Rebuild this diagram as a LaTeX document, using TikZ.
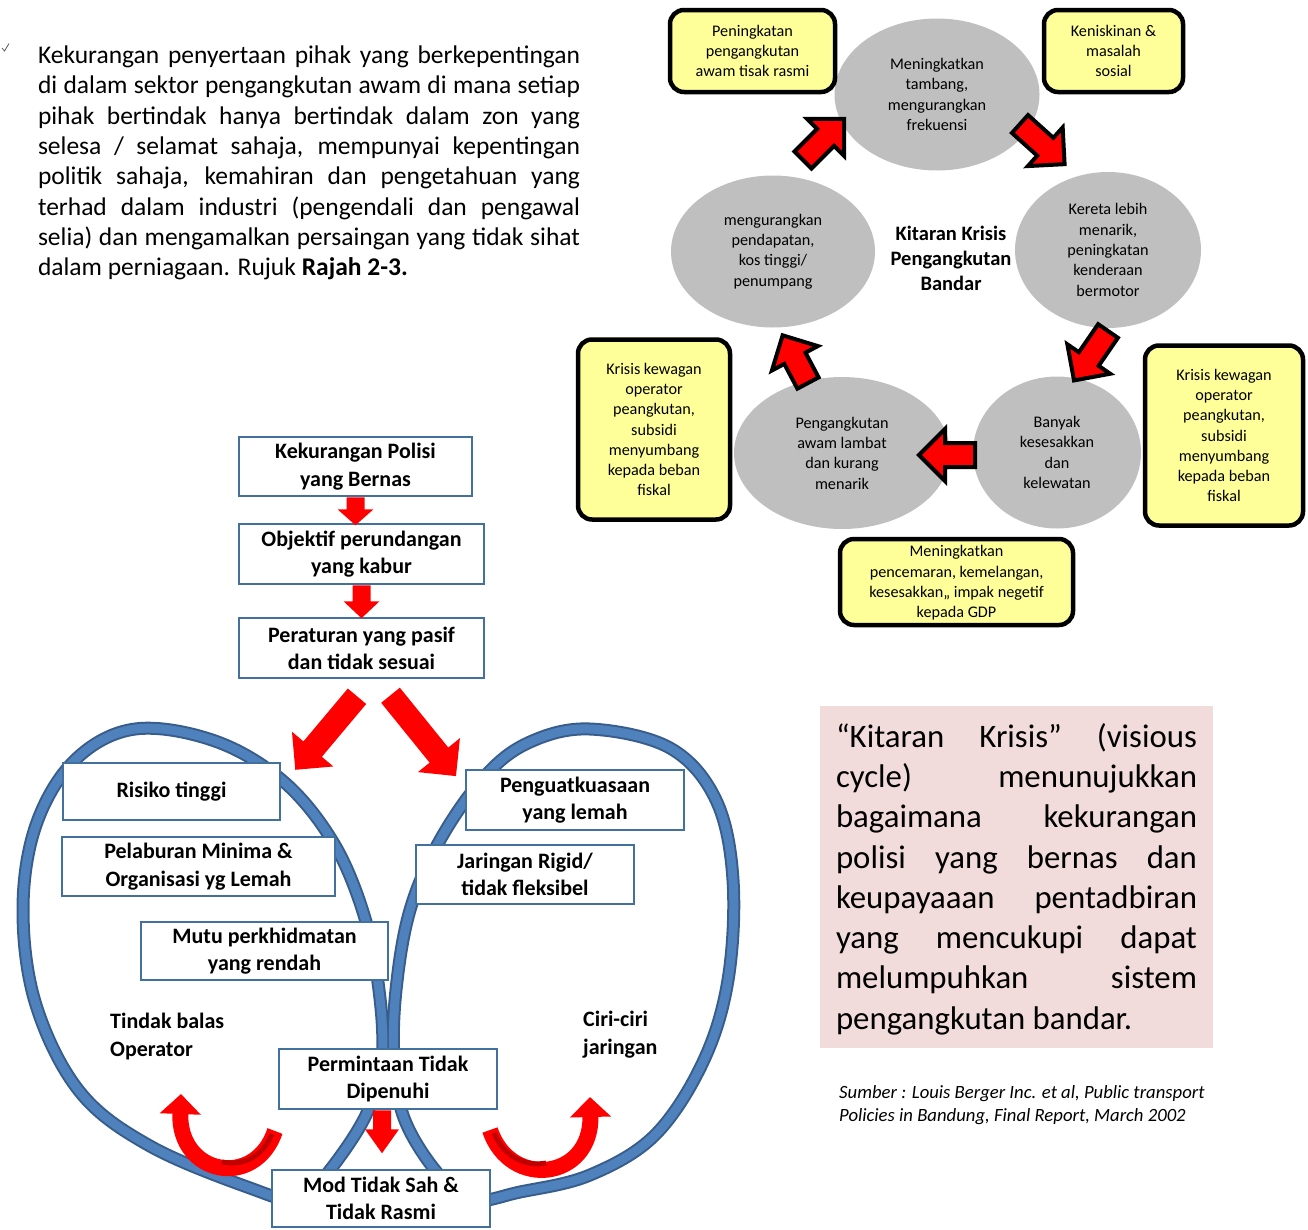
\documentclass[tikz,border=0pt]{standalone}
\usepackage{fontspec}
\setmainfont{Carlito}
\usetikzlibrary{shapes.geometric,arrows.meta,calc}

\definecolor{ellgray}{HTML}{BFBFBF}
\definecolor{noteyel}{HTML}{FFFF99}
\definecolor{boxblue}{HTML}{41719C}
\definecolor{loopblue}{HTML}{4F81BD}
\definecolor{loopedge}{HTML}{385D8A}
\definecolor{notepink}{HTML}{F2DCDB}
\definecolor{arrred}{HTML}{FF0000}
\definecolor{arrdark}{HTML}{C00000}

\newcommand\cyctext{\fontsize{16.2}{20.3}\selectfont}
\newcommand\titletext{\bfseries\fontsize{20.5}{25}\selectfont}
\newcommand\flowtext{\bfseries\fontsize{22}{27.3}\selectfont}
\newcommand\paratext{\fontsize{25.5}{30.3}\selectfont\hyphenpenalty=10000\exhyphenpenalty=10000}
\newcommand\pinktext{\fontsize{32.8}{40.3}\selectfont\hyphenpenalty=10000\exhyphenpenalty=10000}
\newcommand\srctext{\itshape\fontsize{18.7}{23}\selectfont}

% block arrow: [style]{tail}{angle}{length}{shaft width}{head width}{head length}
\newcommand\BlkArrow[7][]{%
  \path[#1, shift={#2}, rotate=#3]
    (0,-#5/2) -- ({#4-#7},-#5/2) -- ({#4-#7},-#6/2) -- (#4,0)
    -- ({#4-#7},#6/2) -- ({#4-#7},#5/2) -- (0,#5/2) -- cycle;}

\begin{document}
\begin{tikzpicture}[x=1pt,y=-1pt,
  every node/.style={inner sep=0pt},
  ell/.style={ellipse, fill=ellgray, align=center, font=\cyctext},
  note/.style={draw=black, line width=4.5pt, fill=noteyel, rounded corners=14pt,
               align=center, font=\cyctext},
  flowbox/.style={draw=boxblue, line width=2.5pt, fill=white, align=center, font=\flowtext},
  cycarrow/.style={fill=arrred, draw=black, line width=4pt, line join=miter},
  flatarrow/.style={fill=arrred},
  curvearrow/.style={draw=arrred, line width=16pt, -{Triangle[length=20pt,width=40pt]}},
  curveshade/.style={draw=arrdark, line width=5pt},
  loopedge/.style={draw=loopedge, line width=13pt},
  loopfill/.style={draw=loopblue, line width=9pt}
]
\useasboundingbox (0,0) rectangle (1308,1229);

% ---- introductory paragraph ----
\draw[line width=0.7pt, black!70] (2,48) -- (4.5,51) -- (9,43.5);
\node[text width=542pt, align=justify, font=\paratext] (para) at (309,163) {%
Kekurangan penyertaan pihak yang berkepentingan\linebreak
di dalam sektor pengangkutan awam di mana setiap\linebreak
pihak bertindak hanya bertindak dalam zon yang\linebreak
selesa / selamat sahaja, mempunyai kepentingan\linebreak
politik sahaja, kemahiran dan pengetahuan yang\linebreak
terhad dalam industri (pengendali dan pengawal\linebreak
selia) dan mengamalkan persaingan yang tidak sihat\linebreak
dalam perniagaan. Rujuk \textbf{Rajah 2-3.}};

% ---- crisis cycle ----
\node[ell, minimum width=205pt, minimum height=152pt] (etop) at (937,94.5)
  {Meningkatkan\\tambang,\\mengurangkan\\frekuensi};
\node[ell, minimum width=204pt, minimum height=152pt] (eul) at (773,251.5)
  {mengurangkan\\pendapatan,\\kos tinggi/\\penumpang};
\node[ell, minimum width=186pt, minimum height=156pt] (eur) at (1108,250)
  {Kereta lebih\\menarik,\\peningkatan\\kenderaan\\bermotor};
\node[ell, minimum width=216pt, minimum height=152pt] (ell) at (842,453)
  {Pengangkutan\\awam lambat\\dan kurang\\menarik};
\node[ell, minimum width=168pt, minimum height=152pt] (elr) at (1057,452.5)
  {Banyak\\kesesakkan\\dan\\kelewatan};

\node[font=\titletext, align=center] (ctitle) at (951,258)
  {Kitaran Krisis\\Pengangkutan\\Bandar};

\node[note, minimum width=165pt, minimum height=82pt] (n1) at (752.5,51)
  {Peningkatan\\pengangkutan\\awam tisak rasmi};
\node[note, minimum width=139pt, minimum height=82pt] (n2) at (1113.5,51)
  {Keniskinan \&\\masalah\\sosial};
\node[note, minimum width=152pt, minimum height=180pt] (n3) at (654,429.5)
  {Krisis kewagan\\operator\\peangkutan,\\subsidi\\menyumbang\\kepada beban\\fiskal};
\node[note, minimum width=158pt, minimum height=180pt] (n4) at (1224,435.5)
  {Krisis kewagan\\operator\\peangkutan,\\subsidi\\menyumbang\\kepada beban\\fiskal};
\node[note, minimum width=233pt, minimum height=86pt] (n5) at (956.5,582) {};
\node[font=\cyctext, align=center] (n5t) at (956.5,583)
  {Meningkatkan\\pencemaran, kemelangan,\\kesesakkan,, impak negetif\\kepada GDP};

\BlkArrow[cycarrow]{(803,160)}{45}{58}{24}{52}{26}
\BlkArrow[cycarrow]{(1020,124)}{-42}{60}{24}{52}{26}
\BlkArrow[cycarrow]{(1108,331)}{-124.5}{60}{24}{52}{26}
\BlkArrow[cycarrow]{(975,455)}{180}{56}{24}{52}{26}
\BlkArrow[cycarrow]{(808,383)}{118}{54}{24}{52}{26}

% ---- policy chain ----
\node[flowbox, minimum width=233pt, minimum height=59pt] (f1) at (355.5,466.5)
  {Kekurangan Polisi\\yang Bernas};
\node[flowbox, minimum width=245pt, minimum height=60pt] (f2) at (361.5,554)
  {Objektif perundangan\\yang kabur};
\node[flowbox, minimum width=245pt, minimum height=60pt] (f3) at (361.5,648)
  {Peraturan yang pasif\\dan tidak sesuai};
\BlkArrow[flatarrow]{(f1.south)}{-90}{28}{18}{36}{16}
\BlkArrow[flatarrow]{(f2.south)}{-90}{33}{18}{36}{17}

% ---- the two loops ----
\foreach \st in {loopedge,loopfill}{
  \path[\st] plot[smooth cycle, tension=0.6] coordinates {
    (135,729) (215,741) (283,781) (333,842) (364,915) (379,990) (382,1060)
    (366,1115) (330,1170) (300,1200) (250,1188) (150,1146) (80,1092)
    (36,1005) (23,910) (36,825) (75,760)};
  \path[\st] plot[smooth cycle, tension=0.6] coordinates {
    (590,729) (670,748) (716,800) (733,880) (728,980) (703,1062) (655,1135)
    (590,1175) (520,1192) (470,1200) (435,1170) (404,1118) (394,1060)
    (396,990) (410,910) (440,840) (485,776) (530,742)};
}

\BlkArrow[flatarrow]{($(f3.south)+(-4.5,17)$)}{-130}{96}{24}{54}{27}
\BlkArrow[flatarrow]{($(f3.south)+(29,16)$)}{-51}{104}{24}{54}{27}

\node[flowbox, minimum width=217pt, minimum height=57pt] (h1) at (171.5,791.5) {Risiko tinggi};
\node[flowbox, minimum width=218pt, minimum height=60pt] (h2) at (575,800) {Penguatkuasaan\\yang lemah};
\node[flowbox, minimum width=273pt, minimum height=59pt] (h3) at (198.5,866.5) {Pelaburan Minima \&\\Organisasi yg Lemah};
\node[flowbox, minimum width=218pt, minimum height=59pt] (h4) at (525,874.5) {Jaringan Rigid/\\tidak fleksibel};
\node[flowbox, minimum width=247pt, minimum height=58pt] (h5) at (264.5,951) {Mutu perkhidmatan\\yang rendah};
\node[flowbox, minimum width=218pt, minimum height=60pt] (h6) at (388,1079) {Permintaan Tidak\\Dipenuhi};
\node[flowbox, minimum width=218pt, minimum height=57pt] (h7) at (381,1198.5) {Mod Tidak Sah \&\\Tidak Rasmi};

\node[font=\flowtext, align=left, anchor=west] (lbl1) at (110,1036.5) {Tindak balas\\Operator};
\node[font=\flowtext, align=left, anchor=west] (lbl2) at (583,1034.5) {Ciri-ciri\\jaringan};

\BlkArrow[flatarrow]{($(h6.south)+(-6,0)$)}{-90}{43}{18}{34}{24}

\draw[curvearrow] (275,1131) .. controls (255,1190) and (178,1175) .. (181,1094);
\draw[curveshade] (272,1134) .. controls (262,1158) and (242,1166) .. (222,1162);
\draw[curvearrow] (490,1130) .. controls (510,1190) and (592,1180) .. (590,1097);
\draw[curveshade] (494,1133) .. controls (504,1157) and (526,1167) .. (546,1163);

% ---- commentary box and source ----
\node[fill=notepink, minimum width=393pt, minimum height=342pt] (pinkbg) at (1016.5,877) {};
\node[text width=361pt, align=justify, font=\pinktext] (pinktxt) at (1016.5,879) {%
“Kitaran Krisis” (visious\linebreak
cycle) menunujukkan\linebreak
bagaimana kekurangan\linebreak
polisi yang bernas dan\linebreak
keupayaaan pentadbiran\linebreak
yang mencukupi dapat\linebreak
melumpuhkan sistem\linebreak
pengangkutan bandar.};
\node[font=\srctext, align=left, anchor=west] (src) at (839,1105.5)
  {Sumber : Louis Berger Inc. et al, Public transport\\Policies in Bandung, Final Report, March 2002};
\end{tikzpicture}
\end{document}
